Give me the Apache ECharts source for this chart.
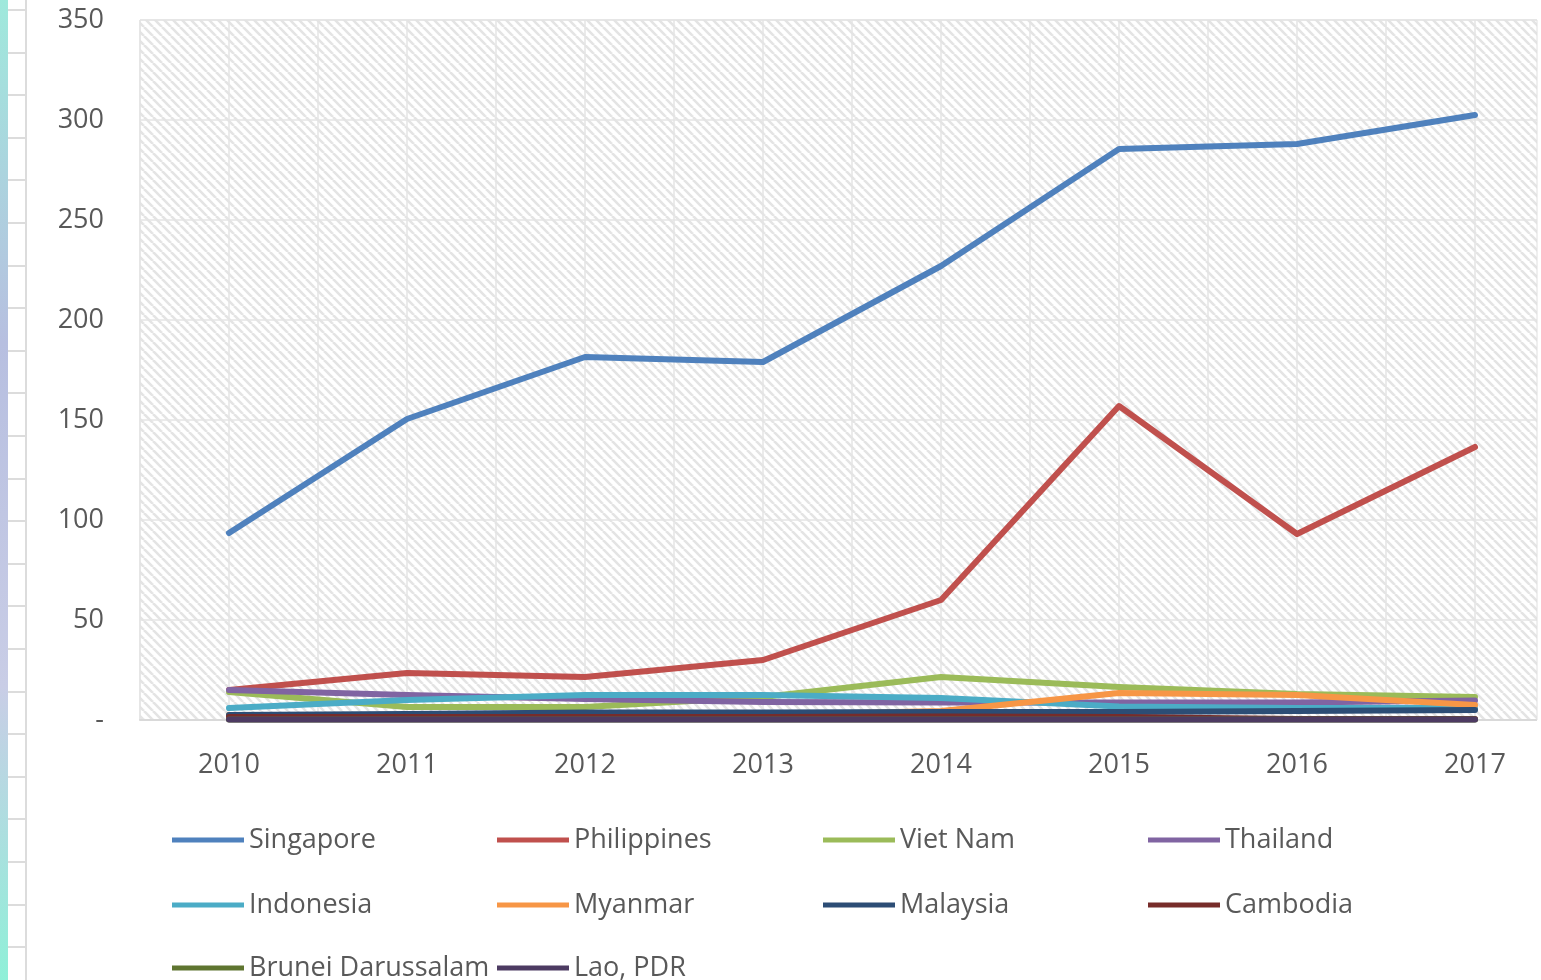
<!DOCTYPE html>
<html>
<head>
<meta charset="utf-8">
<script src="https://cdn.jsdelivr.net/npm/echarts@6/dist/echarts.min.js"></script>
<style>
  html, body { margin: 0; padding: 0; background: #fff; overflow: hidden; }
  #main { width: 1564px; height: 980px; }
</style>
</head>
<body>
<div id="main"></div>
<script>
// years on the x axis
var years = ['2010', '2011', '2012', '2013', '2014', '2015', '2016', '2017'];

// values per country
var singapore   = [93.5, 150.5, 181.5, 179, 227, 285.5, 288, 302.5];
var philippines = [15, 23.5, 21.5, 30, 60, 157, 93, 136.5];
var vietNam     = [14, 6.5, 6.5, 11.5, 21.5, 16.5, 13, 11.5];
var thailand    = [15, 12.5, 10.5, 9, 8.7, 8.7, 8.7, 9.7];
var indonesia   = [6, 10, 12.5, 12.5, 11, 6.7, 6, 6];
var myanmar     = [2.5, 2.5, 2.5, 2.5, 4.5, 13.5, 12.5, 7.5];
var malaysia    = [2.5, 3, 3.7, 3.7, 4, 4, 4.5, 5];
var cambodia    = [1.5, 1.5, 1.5, 1.5, 1.7, 1.5, 0.5, 0.5];
var brunei      = [0.3, 0.3, 0.3, 0.3, 0.3, 0.3, 0.3, 0.3];
var lao         = [0.2, 0.2, 0.2, 0.2, 0.2, 0.2, 0.2, 0.2];

// y tick labels (0 shows as a dash, accounting style)
var yTicks = { 0: '-', 50: '50', 100: '100', 150: '150', 200: '200', 250: '250', 300: '300', 350: '350' };

var names = ['Singapore', 'Philippines', 'Viet Nam', 'Thailand', 'Indonesia', 'Myanmar',
             'Malaysia', 'Cambodia', 'Brunei Darussalam', 'Lao, PDR'];
var values = [singapore, philippines, vietNam, thailand, indonesia, myanmar,
              malaysia, cambodia, brunei, lao];
var colors = ['#4F81BD', '#C0504D', '#9BBB59', '#8064A2', '#4BACC6', '#F79646',
              '#2C4D75', '#772C2A', '#5F7530', '#4D3B62'];

var font = '"Open Sans", sans-serif';
var txt = '#595959';

// hatch tile for the plot area
function hatch() {
  var c = document.createElement('canvas');
  c.width = 9; c.height = 9;
  var ctx = c.getContext('2d');
  ctx.fillStyle = '#ffffff';
  ctx.fillRect(0, 0, 9, 9);
  ctx.strokeStyle = '#e4e4e4';
  ctx.lineWidth = 2.6;
  [-9, 0, 9].forEach(function (o) {
    ctx.beginPath();
    ctx.moveTo(o, 0);
    ctx.lineTo(o + 9, 9);
    ctx.stroke();
  });
  return c;
}

var series = names.map(function (n, i) {
  return {
    name: n,
    type: 'line',
    data: values[i],
    symbol: 'none',
    smooth: false,
    z: 10 + i,
    lineStyle: { color: colors[i], width: 6, cap: 'round', join: 'round' },
    itemStyle: { color: colors[i] }
  };
});

// legend: 4 columns x 3 rows, one component per entry so the grid stays fixed
var colX = [172, 497, 823, 1148];
var rowY = [839, 904, 967];
var legends = names.map(function (n, i) {
  return {
    left: colX[i % 4],
    top: rowY[Math.floor(i / 4)] - 13,
    padding: 0,
    itemWidth: 72,
    itemHeight: 14,
    icon: 'path://M0,0 L72,0 L72,5 L0,5 Z',
    data: [n],
    selectedMode: false,
    textStyle: { fontFamily: font, fontSize: 27, color: txt, lineHeight: 28 }
  };
});

// left ruler strip decoration
var ruler = [
  { type: 'rect', shape: { x: 0, y: 0, width: 8, height: 980 },
    style: { fill: new echarts.graphic.LinearGradient(0, 0, 0, 1, [
      { offset: 0, color: '#9fe9dc' }, { offset: 0.35, color: '#b7bfe0' },
      { offset: 0.7, color: '#c9cde6' }, { offset: 1, color: '#8ff0d8' }]) } },
  { type: 'rect', shape: { x: 8, y: 0, width: 18, height: 980 }, style: { fill: '#ffffff' } },
  { type: 'line', shape: { x1: 26, y1: 0, x2: 26, y2: 980 }, style: { stroke: '#dcdcdc', lineWidth: 2 } }
];
for (var t = 10; t < 980; t += 42.6) {
  ruler.push({ type: 'line', shape: { x1: 8, y1: Math.round(t), x2: 26, y2: Math.round(t) },
    style: { stroke: '#dcdcdc', lineWidth: 2 } });
}
// white margin to the right of the plot
ruler.push({ type: 'rect', shape: { x: 1537, y: 0, width: 40, height: 760 }, style: { fill: '#ffffff' }, z: 100 });
ruler.push({ type: 'line', shape: { x1: 1537, y1: 20, x2: 1537, y2: 720 }, style: { stroke: '#e0e0e0', lineWidth: 1 }, z: 101 });

var chart = echarts.init(document.getElementById('main'));
chart.setOption({
  animation: false,
  color: colors,
  grid: {
    left: 140, top: 20, right: 0, bottom: 260,
    show: true,
    backgroundColor: { image: hatch(), repeat: 'repeat' },
    borderColor: '#dcdcdc', borderWidth: 1
  },
  xAxis: [
    {
      type: 'category',
      data: years,
      boundaryGap: true,
      axisLine: { show: true, lineStyle: { color: '#d9d9d9', width: 2 } },
      axisTick: { show: false },
      splitLine: { show: false },
      axisLabel: { fontFamily: font, fontSize: 27, color: txt, margin: 32 }
    },
    {
      type: 'value',
      min: 0, max: 16, interval: 1,
      position: 'bottom',
      show: true,
      axisLine: { show: false },
      axisTick: { show: false },
      axisLabel: { show: false },
      splitLine: { show: true, lineStyle: { color: '#e4e4e4', width: 1.5 } }
    }
  ],
  yAxis: {
    type: 'value',
    min: 0, max: 350, interval: 50,
    axisLine: { show: false },
    axisTick: { show: false },
    splitLine: { show: true, lineStyle: { color: '#e4e4e4', width: 1.5 } },
    axisLabel: {
      fontFamily: font, fontSize: 27, color: txt, margin: 36, padding: [4, 0, 0, 0],
      formatter: function (v) { return yTicks[v]; }
    }
  },
  legend: legends,
  graphic: ruler,
  series: series
});
</script>
</body>
</html>
